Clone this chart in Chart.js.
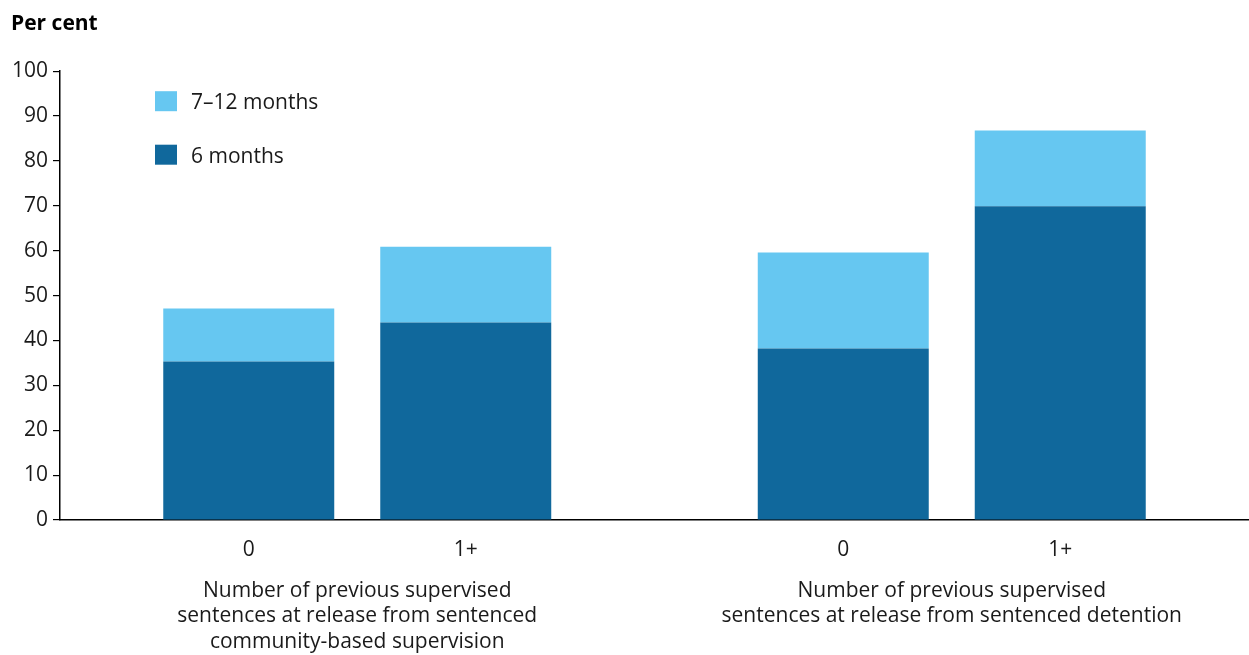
<!DOCTYPE html>
<html>
<head>
<meta charset="utf-8">
<script src="https://cdn.jsdelivr.net/npm/chart.js@4/dist/chart.umd.min.js"></script>
<style>
  html, body { margin: 0; padding: 0; background: #fff; }
  #wrap { width: 1249px; height: 655px; position: relative; }
</style>
</head>
<body>
<div id="wrap"><canvas id="c" width="1249" height="655"></canvas></div>
<script>
// ---- Data ----
const groupLabels = [
  ['Number of previous supervised', 'sentences at release from sentenced', 'community-based supervision'],
  ['Number of previous supervised', 'sentences at release from sentenced detention']
];
const subCategories = ['0', '1+'];
const seriesNames = ['6 months', '7–12 months'];
// values per group for sub-category "0" and "1+"
const sixMonthsZero = [35.3, 38.2];
const sixMonthsOnePlus = [44.0, 69.9];
const sevenToTwelveZero = [11.8, 21.4];
const sevenToTwelveOnePlus = [16.9, 16.9];
const yTicks = [0, 10, 20, 30, 40, 50, 60, 70, 80, 90, 100];

const DARK = '#10689C';
const LIGHT = '#66C7F1';
const FONT = "'Open Sans', 'Noto Sans', sans-serif";
const TXT = '#1a1a1a';

const datasets = [
  { label: seriesNames[0], data: sixMonthsZero, backgroundColor: DARK, stack: subCategories[0] },
  { label: seriesNames[1], data: sevenToTwelveZero, backgroundColor: LIGHT, stack: subCategories[0] },
  { label: seriesNames[0], data: sixMonthsOnePlus, backgroundColor: DARK, stack: subCategories[1] },
  { label: seriesNames[1], data: sevenToTwelveOnePlus, backgroundColor: LIGHT, stack: subCategories[1] }
];

// Draws sub-category labels (0 / 1+) under each stack, and the legend inside the plot
const extras = {
  id: 'extras',
  afterDatasetsDraw(chart) {
    const ctx = chart.ctx;
    const area = chart.chartArea;
    ctx.save();
    ctx.font = '21px ' + FONT;
    ctx.fillStyle = TXT;
    ctx.textAlign = 'center';
    ctx.textBaseline = 'middle';
    [0, 2].forEach((di, k) => {
      const meta = chart.getDatasetMeta(di);
      meta.data.forEach(bar => {
        ctx.fillText(subCategories[k], bar.x, area.bottom + 30);
      });
    });
    // legend
    const items = [{ name: seriesNames[1], color: LIGHT }, { name: seriesNames[0], color: DARK }];
    ctx.textAlign = 'left';
    items.forEach((it, i) => {
      const y = area.top + 20 + i * 53.5;
      ctx.fillStyle = it.color;
      ctx.fillRect(area.left + 95, y, 22, 20);
      ctx.fillStyle = TXT;
      ctx.fillText(it.name, area.left + 131, y + 12);
    });
    ctx.restore();
  }
};

new Chart(document.getElementById('c'), {
  type: 'bar',
  data: { labels: groupLabels, datasets },
  plugins: [extras],
  options: {
    responsive: false,
    animation: false,
    layout: { padding: { left: 11, right: 0, top: 0, bottom: 0 } },
    categoryPercentage: 0.73,
    barPercentage: 0.788,
    plugins: {
      legend: { display: false },
      tooltip: { enabled: false },
      title: {
        display: true,
        text: 'Per cent',
        align: 'start',
        color: '#000',
        font: { family: FONT, size: 21, weight: 'bold' },
        padding: { top: 11, bottom: 35 }
      }
    },
    scales: {
      x: {
        stacked: true,
        grid: { display: false, drawTicks: false },
        border: { display: true, color: '#000', width: 1.5 },
        ticks: {
          color: TXT,
          font: { family: FONT, size: 21, lineHeight: 1.215 },
          padding: 58,
          maxRotation: 0,
          autoSkip: false
        },
        afterFit(scale) { scale.height = 135; }
      },
      y: {
        stacked: true,
        min: 0,
        max: 100,
        afterBuildTicks(scale) { scale.ticks = yTicks.map(v => ({ value: v })); },
        grid: { drawOnChartArea: false, drawTicks: true, tickLength: 7, color: '#000', lineWidth: 1.2 },
        border: { display: true, color: '#000', width: 1.5 },
        ticks: {
          color: TXT,
          font: { family: FONT, size: 21 },
          padding: 5
        },
        afterFit(scale) { scale.width = 49; }
      }
    }
  }
});
</script>
</body>
</html>
